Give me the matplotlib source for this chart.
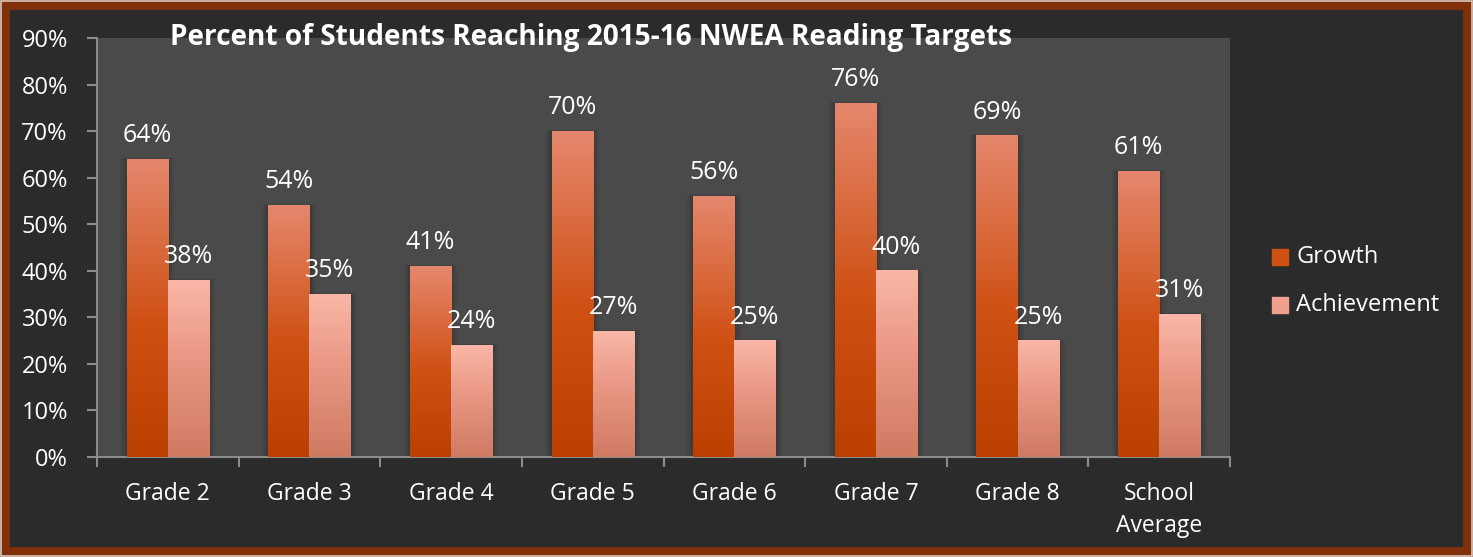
import numpy as np
import matplotlib
matplotlib.use('Agg')
import matplotlib.pyplot as plt
from matplotlib.patches import Rectangle
from matplotlib.colors import LinearSegmentedColormap

categories = ['Grade 2', 'Grade 3', 'Grade 4', 'Grade 5', 'Grade 6', 'Grade 7', 'Grade 8', 'School\nAverage']
growth = [64, 54, 41, 70, 56, 76, 69, 61.4]
achievement = [38, 35, 24, 27, 25, 40, 25, 30.7]
growth_labels = ['64%', '54%', '41%', '70%', '56%', '76%', '69%', '61%']
achievement_labels = ['38%', '35%', '24%', '27%', '25%', '40%', '25%', '31%']
yticks = list(range(0, 91, 10))

plt.rcParams['font.family'] = ['Open Sans', 'DejaVu Sans']

bg = '#2b2b2b'
fig = plt.figure(figsize=(14.73, 5.57), dpi=100, facecolor=bg)
W, H = 1473, 557
ax = fig.add_axes([97 / W, 1 - 457 / H, (1230 - 97) / W, (457 - 38) / H])
ax.set_facecolor('#4a4a4a')

# gradients (bottom -> top)
cm_growth = LinearSegmentedColormap.from_list('g', [(0, '#bb4000'), (0.45, '#cf5013'), (1, '#e5876d')])
cm_ach = LinearSegmentedColormap.from_list('a', [(0, '#cf7a63'), (0.6, '#eb9a87'), (1, '#fab7a7')])
grad = np.linspace(0, 1, 256).reshape(-1, 1)

x = np.arange(len(categories))
bw = 0.29

def draw_bars(xs, vals, cmap):
    for xi, v in zip(xs, vals):
        x0, x1 = xi - bw / 2, xi + bw / 2
        ax.imshow(grad, extent=[x0, x1, 0, v], origin='lower', aspect='auto',
                  cmap=cmap, zorder=3, interpolation='bilinear')

# faint shadow behind each pair
for xi, g, a in zip(x, growth, achievement):
    for k, al in [(0.045, 0.05), (0.03, 0.06), (0.015, 0.08)]:
        ax.add_patch(Rectangle((xi - bw - k, 0), bw + 2 * k, g + k * 6, color='black', alpha=al, lw=0, zorder=2))
        ax.add_patch(Rectangle((xi - k, 0), bw + 2 * k, a + k * 6, color='black', alpha=al, lw=0, zorder=2))

draw_bars(x - bw / 2, growth, cm_growth)
draw_bars(x + bw / 2, achievement, cm_ach)

for xi, v, t in zip(x - bw / 2, growth, growth_labels):
    ax.annotate(t, (xi, v), xytext=(0, 8), textcoords='offset points', ha='center', va='bottom',
                color='white', fontsize=18, zorder=5)
for xi, v, t in zip(x + bw / 2, achievement, achievement_labels):
    ax.annotate(t, (xi, v), xytext=(0, 8), textcoords='offset points', ha='center', va='bottom',
                color='white', fontsize=18, zorder=5)

ax.set_xlim(-0.5, len(categories) - 0.5)
ax.set_ylim(0, 90)
ax.set_yticks(yticks)
ax.set_yticklabels([f'{t}%' for t in yticks], color='white', fontsize=17)
ax.set_xticks(x)
ax.set_xticklabels(categories, color='white', fontsize=16.5, linespacing=1.45)
ax.set_xticks(np.arange(-0.5, len(categories)), minor=True)
ax.tick_params(axis='x', which='major', length=0, pad=18)
ax.tick_params(axis='x', which='minor', length=7, color='#8c8c8c', width=1.5)
ax.tick_params(axis='y', length=7, color='#8c8c8c', width=1.5, pad=14)
for s in ['top', 'right']:
    ax.spines[s].set_visible(False)
for s in ['left', 'bottom']:
    ax.spines[s].set_color('#8c8c8c')
    ax.spines[s].set_linewidth(1.5)

fig.text(170 / W, 1 - 37 / H, 'Percent of Students Reaching 2015-16 NWEA Reading Targets',
         color='white', fontsize=20.2, fontweight='bold', ha='left', va='center')

# legend
lx, ly1, ly2 = 1280, 257, 305
for yy, c, lab in [(ly1, '#cf5013', 'Growth'), (ly2, '#f0a08c', 'Achievement')]:
    fig.patches.append(Rectangle(((lx - 8) / W, 1 - (yy + 8) / H), 16 / W, 16 / H,
                                 transform=fig.transFigure, color=c, zorder=5))
    fig.text((lx + 16) / W, 1 - yy / H, lab, color='white', fontsize=17, ha='left', va='center')

# frame
fig.patches.append(Rectangle((5 / W, 5 / H), (W - 10) / W, (H - 10) / H, transform=fig.transFigure,
                             fill=False, edgecolor='#80300a', linewidth=7, zorder=10))
fig.patches.append(Rectangle((1 / W, 1 / H), (W - 2) / W, (H - 2) / H, transform=fig.transFigure,
                             fill=False, edgecolor='#d9c9c0', linewidth=1.2, zorder=10))

fig.savefig('out.png', dpi=100, facecolor=bg)
